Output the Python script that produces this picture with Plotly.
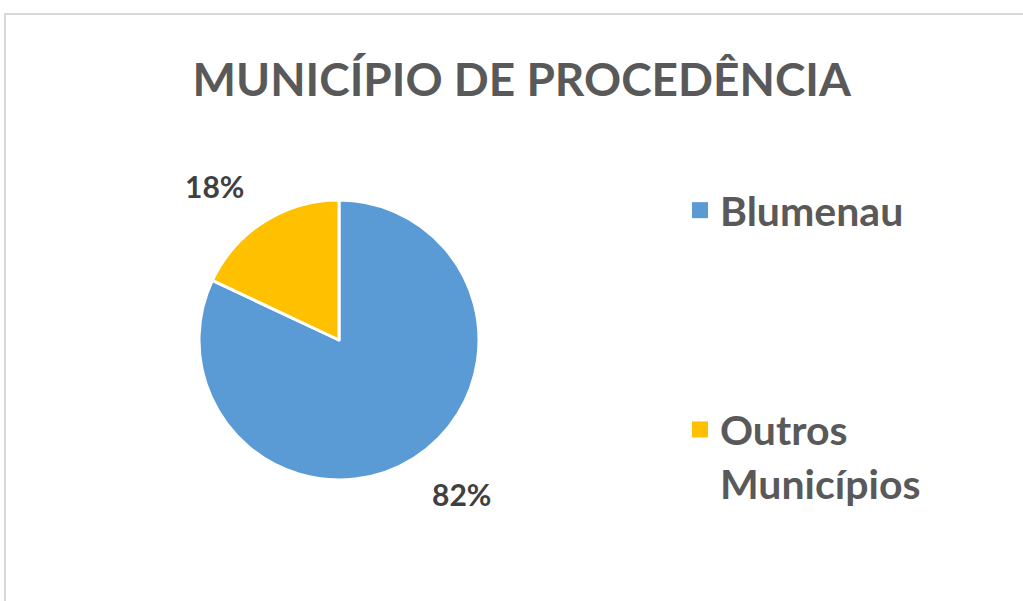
import math
import plotly.graph_objects as go

title = "MUNICÍPIO DE PROCEDÊNCIA"
labels = ["Blumenau", "Outros Municípios"]
legend_names = ["Blumenau", "Outros<br>Municípios"]
values = [82, 18]
colors = ["#5B9BD5", "#FFC000"]

FONT = "Lato, 'Open Sans', sans-serif"
W, H = 1023, 601

# pie domain (pixels from top-left)
px0, px1, py0, py1 = 199, 479, 200, 480
dom_x = [px0 / W, px1 / W]
dom_y = [1 - py1 / H, 1 - py0 / H]

fig = go.Figure()
fig.add_trace(go.Pie(
    labels=labels, values=values, sort=False, direction="clockwise", rotation=0,
    marker=dict(colors=colors, line=dict(color="white", width=3)),
    textinfo="none",
    domain=dict(x=dom_x, y=dom_y),
    showlegend=False, hoverinfo="label+percent",
))
for i, (nm, c) in enumerate(zip(legend_names, colors)):
    fig.add_trace(go.Scatter(
        x=[None], y=[None], mode="markers", name=nm, legendgroup=f"g{i}",
        marker=dict(symbol="square", size=16, color=c), showlegend=True,
    ))

# data labels placed outside along each slice's mid-angle (Excel "best fit" style)
cx, cy = (px0 + px1) / 2, (py0 + py1) / 2
r = (px1 - px0) / 2
total = sum(values)
annotations = []
start = 0.0
for v in values:
    frac = v / total
    mid = (start + frac / 2) * 2 * math.pi  # clockwise from 12 o'clock
    start += frac
    dist = r * 1.13
    x = cx + dist * math.sin(mid)
    y = cy - dist * math.cos(mid)
    right_side = math.sin(mid) >= 0
    annotations.append(dict(
        x=x / W, y=1 - y / H, xref="paper", yref="paper",
        text=f"{round(frac * 100)}%", showarrow=False,
        xanchor="left" if right_side else "right",
        yanchor="top" if math.cos(mid) < 0 else "bottom",
        xshift=6 if right_side else -8,
        font=dict(family=FONT, size=30, color="#404040", weight="bold"),
    ))

fig.update_layout(
    width=W, height=H,
    margin=dict(l=0, r=0, t=0, b=0),
    paper_bgcolor="white", plot_bgcolor="white",
    xaxis=dict(visible=False), yaxis=dict(visible=False),
    title=dict(text=title, x=0.51, xanchor="center", y=1 - 80 / H, yanchor="middle",
               font=dict(family=FONT, size=46, color="#595959", weight="bold")),
    legend=dict(x=680 / W, xanchor="left", y=1 - 177 / H, yanchor="top",
                font=dict(family=FONT, size=41, color="#595959", weight="bold"),
                tracegroupgap=163, valign="top", itemwidth=30,
                bgcolor="rgba(0,0,0,0)"),
    annotations=annotations,
    shapes=[dict(type="rect", xref="paper", yref="paper", x0=5 / W, x1=1.2,
                 y0=-0.2, y1=1 - 14 / H, line=dict(color="#D9D9D9", width=2))],
)
fig.write_html("out.html", config={"displayModeBar": False},
               post_script="document.body.style.margin='0';document.body.style.overflow='hidden';")
